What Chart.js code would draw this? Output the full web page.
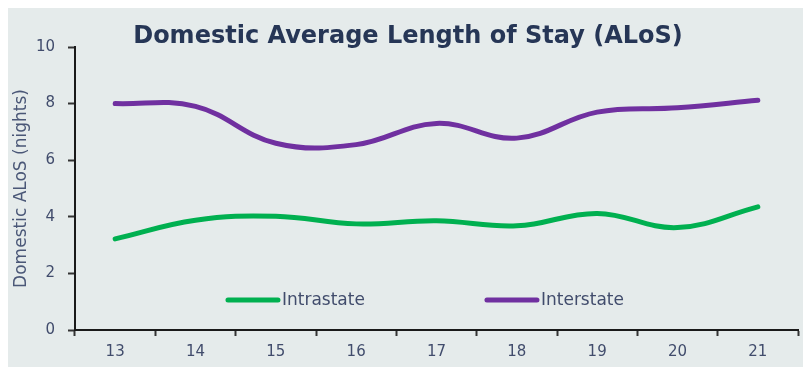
<!DOCTYPE html>
<html>
<head>
<meta charset="utf-8">
<script src="https://cdn.jsdelivr.net/npm/chart.js@4/dist/chart.umd.min.js"></script>
<style>
    html, body { margin: 0; padding: 0; background: #ffffff; }
    #wrap {
        position: absolute; left: 8px; top: 8px;
        width: 795px; height: 359px;
        background: #e5ebeb;
    }
</style>
</head>
<body>
<div id="wrap"><canvas id="alos-chart" width="795" height="359"></canvas></div>
<script>
// financial years
const years = ['13', '14', '15', '16', '17', '18', '19', '20', '21'];
const intrastate = [3.22, 3.88, 4.02, 3.75, 3.86, 3.68, 4.12, 3.62, 4.35];
const interstate = [8.0, 7.9, 6.6, 6.55, 7.3, 6.78, 7.7, 7.85, 8.12];
const yTicks = [0, 2, 4, 6, 8, 10];

const TEXT = '#414c6c';
const AXIS = '#1a1a1a';

// legend sits inside the plot area, below the lines
const inlineLegend = {
    id: 'inlineLegend',
    afterDatasetsDraw(chart) {
        const { ctx, chartArea } = chart;
        const w = chartArea.right - chartArea.left;
        const y = chartArea.bottom - 30;
        const spots = [0.2116, 0.5698];
        ctx.save();
        ctx.font = '17px "DejaVu Sans"';
        ctx.textBaseline = 'middle';
        chart.data.datasets.forEach((ds, i) => {
            const x = chartArea.left + w * spots[i];
            ctx.strokeStyle = ds.borderColor;
            ctx.lineWidth = 5;
            ctx.lineCap = 'round';
            ctx.beginPath();
            ctx.moveTo(x, y);
            ctx.lineTo(x + 50, y);
            ctx.stroke();
            ctx.fillStyle = TEXT;
            ctx.fillText(ds.label, x + 54, y + 1);
        });
        ctx.restore();
    }
};

new Chart(document.getElementById('alos-chart'), {
    type: 'line',
    data: {
        labels: years,
        datasets: [
            {
                label: 'Intrastate',
                data: intrastate,
                borderColor: '#00b050',
                borderWidth: 5,
                borderCapStyle: 'round',
                tension: 0.4,
                pointRadius: 0,
                fill: false
            },
            {
                label: 'Interstate',
                data: interstate,
                borderColor: '#7030a0',
                borderWidth: 5,
                borderCapStyle: 'round',
                tension: 0.4,
                pointRadius: 0,
                fill: false
            }
        ]
    },
    options: {
        responsive: false,
        animation: false,
        layout: { padding: { left: 10, right: 5, top: 0, bottom: 0 } },
        plugins: {
            legend: { display: false },
            tooltip: { enabled: false },
            title: {
                display: true,
                text: 'Domestic Average Length of Stay (ALoS)',
                color: '#263656',
                font: { family: 'DejaVu Sans', size: 24, weight: 'bold', lineHeight: 0.875 },
                padding: { top: 18, bottom: 0 }
            }
        },
        scales: {
            x: {
                offset: true,
                grid: {
                    offset: true,
                    drawOnChartArea: false,
                    drawTicks: true,
                    tickLength: 6,
                    tickWidth: 2,
                    tickColor: '#333333'
                },
                border: { display: true, color: AXIS, width: 2 },
                ticks: {
                    color: TEXT,
                    padding: 7,
                    font: { family: 'DejaVu Sans', size: 15 }
                },
                afterFit(scale) { scale.height = 37; }
            },
            y: {
                min: 0,
                max: 10,
                afterBuildTicks(scale) {
                    scale.ticks = yTicks.map(v => ({ value: v }));
                },
                grid: {
                    drawOnChartArea: false,
                    drawTicks: true,
                    tickLength: 7,
                    tickWidth: 2,
                    tickColor: '#333333'
                },
                border: { display: true, color: AXIS, width: 2 },
                ticks: {
                    color: TEXT,
                    padding: 13,
                    font: { family: 'DejaVu Sans', size: 15 }
                },
                title: {
                    display: true,
                    text: 'Domestic ALoS (nights)',
                    color: '#4a5777',
                    font: { family: 'DejaVu Sans', size: 17 },
                    padding: { top: -7, bottom: 0 }
                },
                afterFit(scale) { scale.width = 57; }
            }
        }
    },
    plugins: [inlineLegend]
});
</script>
</body>
</html>
